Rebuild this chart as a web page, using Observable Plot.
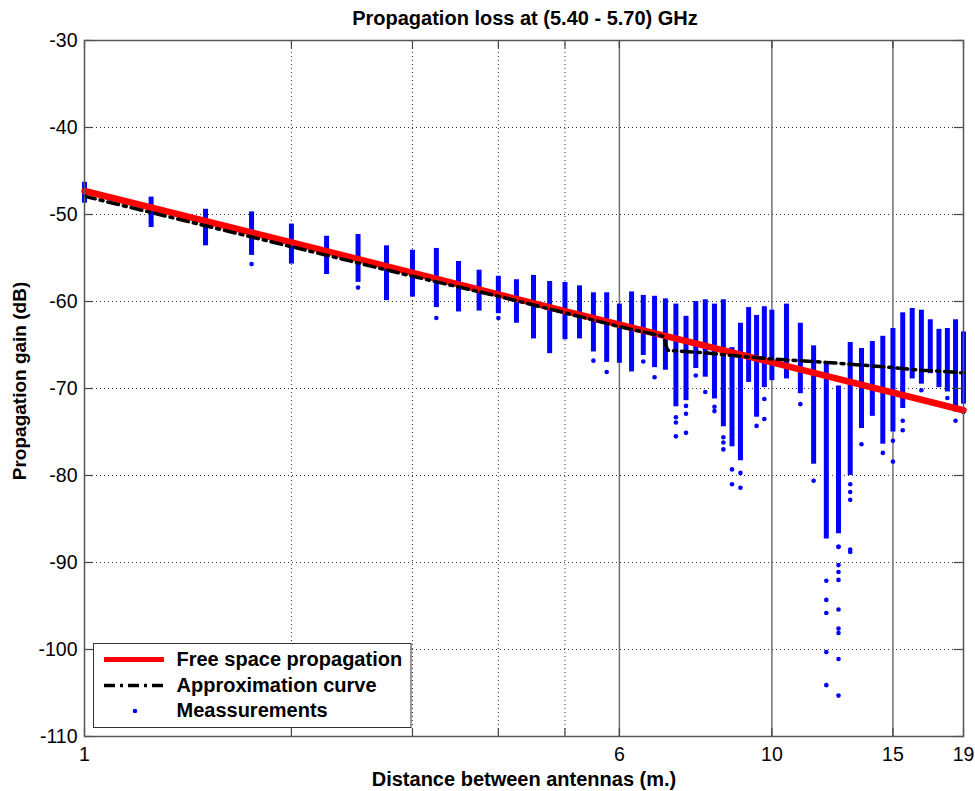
<!DOCTYPE html>
<html>
<head>
<meta charset="utf-8">
<script src="https://cdn.jsdelivr.net/npm/d3@7"></script>
<script src="https://cdn.jsdelivr.net/npm/@observablehq/plot@0.6"></script>
<style>
  html, body { margin: 0; padding: 0; background: #fff; }
  #chart { width: 975px; height: 791px; }
</style>
</head>
<body>
<div id="chart"></div>
<script>
// ---- Data ----
const distances = [1,1.25,1.5,1.75,2,2.25,2.5,2.75,3,3.25,3.5,3.75,4,4.25,4.5,4.75,5,5.25,5.5,5.75,6,6.25,6.5,6.75,7,7.25,7.5,7.75,8,8.25,8.5,8.75,9,9.25,9.5,9.75,10,10.5,11,11.5,12,12.5,13,13.5,14,14.5,15,15.5,16,16.5,17,17.5,18,18.5,19];
const measTop = [-46.3,-48.0,-49.4,-49.7,-51.1,-52.5,-52.3,-53.6,-54.1,-53.9,-55.4,-56.4,-57.1,-57.5,-57.0,-57.7,-57.8,-58.2,-59.0,-59.0,-60.3,-58.9,-59.3,-59.4,-59.7,-60.3,-61.7,-60.0,-59.8,-60.3,-59.8,-65.3,-62.5,-60.7,-61.6,-60.6,-61.0,-60.3,-62.5,-65.1,-67.2,-69.7,-64.7,-65.4,-64.6,-64.0,-63.1,-61.3,-60.8,-61.0,-62.1,-63.2,-63.1,-62.1,-63.5];
const measBottom = [-48.7,-51.5,-53.6,-54.7,-55.7,-56.9,-57.8,-59.9,-59.5,-60.7,-61.2,-61.1,-61.4,-62.5,-64.3,-66.0,-64.4,-64.3,-65.8,-67.0,-67.1,-68.1,-66.2,-67.6,-67.9,-72.1,-71.4,-67.7,-68.7,-71.2,-74.4,-76.7,-78.3,-69.3,-73.3,-69.9,-69.1,-68.9,-70.6,-78.7,-87.3,-86.7,-80.0,-74.6,-73.2,-76.4,-75.0,-72.3,-68.9,-69.5,-68.3,-69.9,-70.4,-72.7,-71.8];

const outlierDistances = [1.75,2.5,3.25,4,5.5,5.75,6.5,6.75,7.25,7.25,7.25,7.5,7.5,7.5,7.75,8,8.25,8.25,8.5,8.5,8.5,8.75,8.75,9,9,9.5,9.75,9.75,11,11.5,12,12,12,12,12,12.5,12.5,12.5,12.5,12.5,12.5,12.5,12.5,12.5,12.5,13,13,13,13,13,13.5,14.5,15,15,15.5,15.5,16.5,18,18.5,19];
const outlierGains = [-55.7,-58.4,-61.9,-61.9,-66.8,-68.1,-66.9,-68.7,-73.3,-73.9,-75.5,-72.0,-72.9,-75.1,-68.5,-70.4,-72.1,-72.6,-75.6,-76.2,-77.0,-79.3,-81.0,-79.7,-81.4,-74.3,-71.2,-73.5,-71.8,-80.6,-92.1,-94.3,-95.8,-100.3,-104.1,-88.2,-90.3,-91.1,-92.0,-95.4,-97.6,-98.1,-101.1,-105.3,-88.2,-81.0,-81.9,-82.8,-88.5,-88.8,-76.4,-77.4,-76.0,-78.4,-73.7,-74.8,-70.2,-71.1,-73.7,-72.7];

const freeDistances = [1, 2, 5, 10, 19];
const freeGains = [-47.3, -53.2, -61.1, -67.0, -72.5];

const approxDistances = [1, 1.5, 2, 3, 4, 5, 6, 6.95, 7.05, 8, 9, 10, 11, 12, 13, 14, 15, 16.5, 17.5, 19];
const approxGains = [-47.9, -51.3, -53.7, -57.1, -59.4, -61.3, -62.9, -64.0, -65.6, -65.9, -66.3, -66.6, -66.8, -67.0, -67.2, -67.4, -67.6, -67.9, -68.0, -68.2];

const xTickLabels = [1, 6, 10, 15, 19];
const xTickMarks = [1, 2, 3, 4, 5, 6, 10, 15, 19];
const xDottedGrid = [2, 3, 4, 5];
const xSolidLines = [6, 10, 15];
const yTicks = [-30, -40, -50, -60, -70, -80, -90, -100, -110];
const yGrid = [-40, -50, -60, -70, -80, -90, -100];

const titleText = "Propagation loss at (5.40 - 5.70) GHz";
const xLabelText = "Distance between antennas (m.)";
const yLabelText = "Propagation gain (dB)";
const legendLabels = ["Free space propagation", "Approximation curve", "Meassurements"];

// ---- Tables built from the arrays ----
const columns = distances.map((d, i) => ({d, top: measTop[i], bottom: measBottom[i]}));
const outliers = outlierDistances.map((d, i) => ({d, g: outlierGains[i]}));
const freeSpace = freeDistances.map((d, i) => ({d, g: freeGains[i]}));
const approx = approxDistances.map((d, i) => ({d, g: approxGains[i]}));

const BLUE = "#0000ff";
const FONT = "'Liberation Sans', Arial, Helvetica, sans-serif";
const DASHDOT = "11,5,3,5";

const W = 975, H = 791, ML = 84, MR = 12, MT = 40, MB = 55;
const plotH = H - MT - MB, plotW = W - ML - MR;

const svg = Plot.plot({
  width: W, height: H,
  marginLeft: ML, marginRight: MR, marginTop: MT, marginBottom: MB,
  x: {type: "log", domain: [1, 19]},
  y: {domain: [-110, -30]},
  style: {fontFamily: FONT, fontSize: "19.5px", background: "#fff", color: "#000", overflow: "visible"},
  marks: [
    Plot.ruleY(yGrid, {stroke: "#333", strokeWidth: 1, strokeDasharray: "1,3"}),
    Plot.ruleX(xDottedGrid, {stroke: "#333", strokeWidth: 1, strokeDasharray: "1,3"}),
    Plot.ruleX(xSolidLines, {stroke: "#707070", strokeWidth: 1.5}),
    Plot.ruleX(columns, {x: "d", y1: "top", y2: "bottom", stroke: BLUE, strokeWidth: 5}),
    Plot.dot(outliers, {x: "d", y: "g", r: 2.3, fill: BLUE}),
    Plot.line(freeSpace, {x: "d", y: "g", stroke: "#ff0000", strokeWidth: 6.5}),
    Plot.line(approx, {x: "d", y: "g", stroke: "#000", strokeWidth: 3.5, strokeDasharray: DASHDOT}),
    // inward tick marks
    Plot.tickX(xTickMarks, {x: d => d, stroke: "#444", strokeWidth: 1.2, insetTop: plotH - 8}),
    Plot.tickX(xTickMarks, {x: d => d, stroke: "#444", strokeWidth: 1.2, insetBottom: plotH - 8}),
    Plot.tickY(yTicks, {y: d => d, stroke: "#444", strokeWidth: 1.2, insetRight: plotW - 9}),
    Plot.tickY(yTicks, {y: d => d, stroke: "#444", strokeWidth: 1.2, insetLeft: plotW - 9}),
    Plot.frame({stroke: "#555", strokeWidth: 1.5}),
    Plot.axisX({ticks: xTickLabels, tickSize: 0, tickPadding: 11, tickFormat: d => String(d), label: null, fontSize: 19.5}),
    Plot.axisY({ticks: yTicks, tickSize: 0, tickPadding: 7, tickFormat: d => String(d), label: null, fontSize: 19.5})
  ]
});

const s = d3.select(svg);
const deco = s.append("g").attr("font-family", FONT).attr("font-weight", "bold").attr("font-size", 20).attr("fill", "#000");
deco.append("text").attr("x", 525).attr("y", 25).attr("text-anchor", "middle").text(titleText);
deco.append("text").attr("x", 524).attr("y", 786).attr("text-anchor", "middle").text(xLabelText);
deco.append("text").attr("transform", "translate(26,381) rotate(-90)").attr("text-anchor", "middle").attr("font-size", 19).text(yLabelText);

// legend
const lg = s.append("g");
lg.append("rect").attr("x", 93.5).attr("y", 643.5).attr("width", 317.5).attr("height", 84)
  .attr("fill", "#fff").attr("stroke", "#333").attr("stroke-width", 1);
lg.append("line").attr("x1", 104).attr("x2", 164).attr("y1", 659.5).attr("y2", 659.5)
  .attr("stroke", "#ff0000").attr("stroke-width", 5);
lg.append("line").attr("x1", 104).attr("x2", 164).attr("y1", 685.5).attr("y2", 685.5)
  .attr("stroke", "#000").attr("stroke-width", 3.5).attr("stroke-dasharray", DASHDOT);
lg.append("circle").attr("cx", 135).attr("cy", 711).attr("r", 2.3).attr("fill", BLUE);
const baselines = [666, 692, 717];
legendLabels.forEach((t, i) => {
  lg.append("text").attr("x", 176.5).attr("y", baselines[i]).attr("text-anchor", "start")
    .attr("font-family", FONT).attr("font-weight", "bold").attr("font-size", 20).attr("fill", "#000").text(t);
});

document.getElementById("chart").appendChild(svg);
</script>
</body>
</html>
